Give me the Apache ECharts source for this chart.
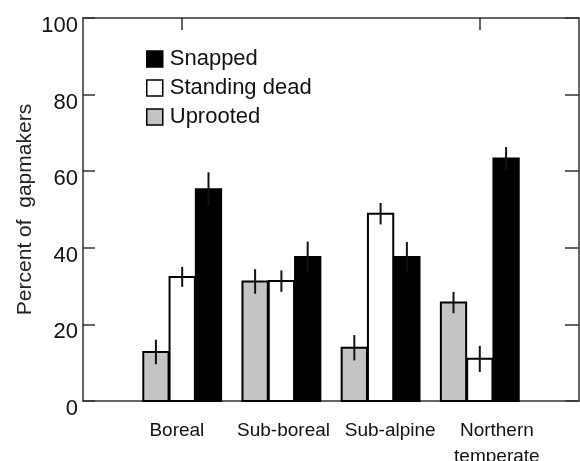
<!DOCTYPE html>
<html lang="en">
<head>
    <meta charset="UTF-8">
    <title>Gapmakers</title>
    <script src="https://cdn.jsdelivr.net/npm/echarts@6/dist/echarts.min.js"></script>
</head>
<body style="margin:0;">
<div id="chartmain" style="width:580px; height: 461px;"></div>
<script type="text/javascript">

    var forestTypes = ['Boreal', 'Sub-boreal', 'Sub-alpine', 'Northern\ntemperate'];  // 林型
    var groupPos = [1, 2, 3, 4];
    var yTicks = [0, 20, 40, 60, 80, 100];

    var uprooted = [12.8, 31.2, 13.9, 25.7];
    var uprootedErr = [3.2, 3.2, 3.3, 2.8];
    var standingDead = [32.4, 31.3, 48.9, 11.0];
    var standingDeadErr = [2.6, 2.8, 2.8, 3.4];
    var snapped = [55.3, 37.6, 37.6, 63.3];
    var snappedErr = [4.4, 4.0, 3.9, 3.0];

    var barW = 0.255;

    function makeData(vals, errs) {
        var out = [];
        for (var i = 0; i < vals.length; i++) {
            out.push([groupPos[i], vals[i], errs[i]]);
        }
        return out;
    }

    function barRenderer(offset, fill) {
        return function (params, api) {
            var x = api.value(0) + offset;
            var v = api.value(1);
            var e = api.value(2);
            var p0 = api.coord([x - barW / 2, 0]);
            var p1 = api.coord([x + barW / 2, v]);
            var eTop = api.coord([x, v + e]);
            var eBot = api.coord([x, v - e]);
            return {
                type: 'group',
                children: [{
                    type: 'rect',
                    shape: {x: p0[0], y: p1[1], width: p1[0] - p0[0], height: p0[1] - p1[1]},
                    style: {fill: fill, stroke: '#000', lineWidth: 2}
                }, {
                    type: 'line',
                    shape: {x1: eTop[0], y1: eTop[1], x2: eBot[0], y2: eBot[1]},
                    style: {stroke: '#111', lineWidth: 2}
                }]
            };
        };
    }

    var font = 'Liberation Sans, Arial, sans-serif';
    var axisCol = '#333';

    var option = {
        animation: false,
        textStyle: {fontFamily: font, color: '#111'},
        grid: {left: 83, right: 1, top: 18, bottom: 60, containLabel: false, outerBoundsMode: 'none'},
        legend: {
            orient: 'vertical',
            left: 141,
            top: 43,
            itemWidth: 16,
            itemHeight: 16,
            itemGap: 7,
            textStyle: {fontSize: 22, color: '#111', fontFamily: font, padding: [0, 0, 0, 2]},
            data: [
                {name: 'Snapped', icon: 'rect', itemStyle: {color: '#000', borderColor: '#000', borderWidth: 1.5}},
                {name: 'Standing dead', icon: 'rect', itemStyle: {color: '#fff', borderColor: '#000', borderWidth: 1.5}},
                {name: 'Uprooted', icon: 'rect', itemStyle: {color: '#c4c4c4', borderColor: '#000', borderWidth: 1.5}}
            ]
        },
        xAxis: [{
            type: 'value', position: 'bottom', min: 0, max: 5,
            axisLine: {onZero: false, lineStyle: {color: axisCol, width: 1.5}},
            axisTick: {show: false}, axisLabel: {show: false}, splitLine: {show: false}
        }, {
            type: 'value', position: 'top', min: 0, max: 5,
            axisLine: {onZero: false, lineStyle: {color: axisCol, width: 1.5}},
            axisTick: {inside: true, length: 12, customValues: [1, 4], lineStyle: {color: axisCol, width: 1.5}},
            axisLabel: {show: false}, splitLine: {show: false}
        }, {
            // label axis, slightly wider spacing than the bar groups
            type: 'value', position: 'bottom', min: 0.12, max: 4.77,
            axisLine: {show: false, onZero: false}, axisTick: {show: false}, splitLine: {show: false},
            axisLabel: {
                customValues: groupPos,
                margin: 17,
                fontSize: 19,
                lineHeight: 26,
                color: '#111',
                formatter: function (v) { return forestTypes[Math.round(v) - 1] || ''; }
            }
        }],
        yAxis: [{
            type: 'value', position: 'left', min: 0, max: 100, interval: 20,
            name: 'Percent of  gapmakers',
            nameLocation: 'middle',
            nameGap: 47,
            nameMoveOverlap: false,
            nameTextStyle: {fontSize: 21, color: '#222'},
            axisLine: {show: true, onZero: false, lineStyle: {color: axisCol, width: 1.5}},
            axisTick: {inside: true, length: 12, lineStyle: {color: axisCol, width: 1.5}},
            axisLabel: {
                fontSize: 22, color: '#111', margin: 5,
                verticalAlign: 'top', lineHeight: 16,
                formatter: function (v) { return yTicks.indexOf(v) >= 0 ? String(v) : ''; }
            },
            splitLine: {show: false}
        }, {
            type: 'value', position: 'right', min: 0, max: 100, interval: 20,
            axisLine: {show: true, onZero: false, lineStyle: {color: axisCol, width: 1.5}},
            axisTick: {inside: true, length: 14, lineStyle: {color: axisCol, width: 1.5}},
            axisLabel: {show: false}, splitLine: {show: false}
        }],
        series: [{
            name: 'Uprooted', type: 'custom', xAxisIndex: 0, yAxisIndex: 0,
            itemStyle: {color: '#c4c4c4'},
            renderItem: barRenderer(-0.265, '#c4c4c4'),
            data: makeData(uprooted, uprootedErr)
        }, {
            name: 'Standing dead', type: 'custom', xAxisIndex: 0, yAxisIndex: 0,
            itemStyle: {color: '#fff'},
            renderItem: barRenderer(0, '#fff'),
            data: makeData(standingDead, standingDeadErr)
        }, {
            name: 'Snapped', type: 'custom', xAxisIndex: 0, yAxisIndex: 0,
            itemStyle: {color: '#000'},
            renderItem: barRenderer(0.265, '#000'),
            data: makeData(snapped, snappedErr)
        }]
    };

    var myChart = echarts.init(document.getElementById('chartmain'));
    myChart.setOption(option);

</script>
</body>
</html>
